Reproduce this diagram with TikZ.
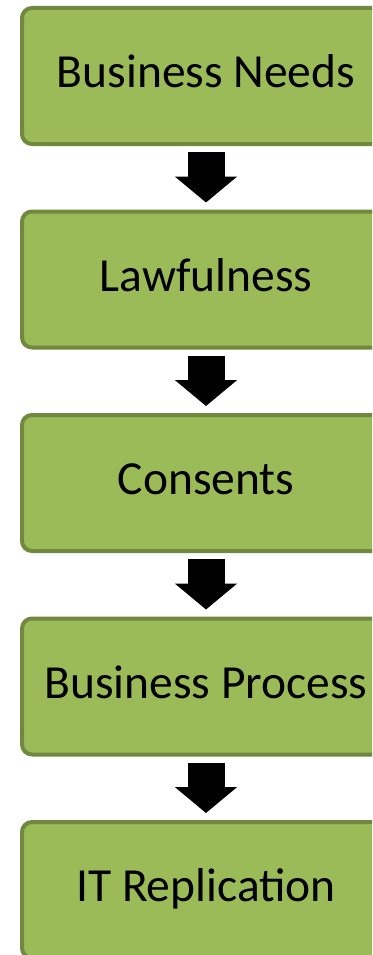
\documentclass[tikz,border=0pt]{standalone}
\usepackage{fontspec}
\setmainfont{Carlito}
\usetikzlibrary{positioning,arrows.meta}

\definecolor{boxfill}{HTML}{9BBB59}
\definecolor{boxline}{HTML}{71893F}

\tikzset{
    stagebox/.style={draw=boxline, fill=boxfill, line width=4pt, rounded corners=10pt,
        minimum width=368pt, minimum height=136pt, inner sep=0pt,
        text height=32pt, text depth=9pt,
        font=\fontsize{47.5}{57}\selectfont},
    flowarrow/.style={line width=37pt, -{Triangle[width=61pt,length=26pt]},
        shorten <=6pt, shorten >=7pt}
}

\begin{document}
\begin{tikzpicture}[x=1pt, y=1pt]

    % Page frame, the boxes run past the right and bottom edges
    \path[use as bounding box, clip] (0,0) rectangle (372,-955);

    % The five stages, one below the other
    \node[stagebox] (needs) at (206,-76) {Business Needs};
    \node[stagebox, below=63.5pt of needs] (lawful) {Lawfulness};
    \node[stagebox, below=63.5pt of lawful] (consent) {Consents};
    \node[stagebox, below=63.5pt of consent] (process) {Business Process};
    \node[stagebox, below=63.5pt of process] (replic) {IT Replication};

    % Block arrows between the stages
    \draw[flowarrow] (needs) -- (lawful);
    \draw[flowarrow] (lawful) -- (consent);
    \draw[flowarrow] (consent) -- (process);
    \draw[flowarrow] (process) -- (replic);

\end{tikzpicture}
\end{document}
